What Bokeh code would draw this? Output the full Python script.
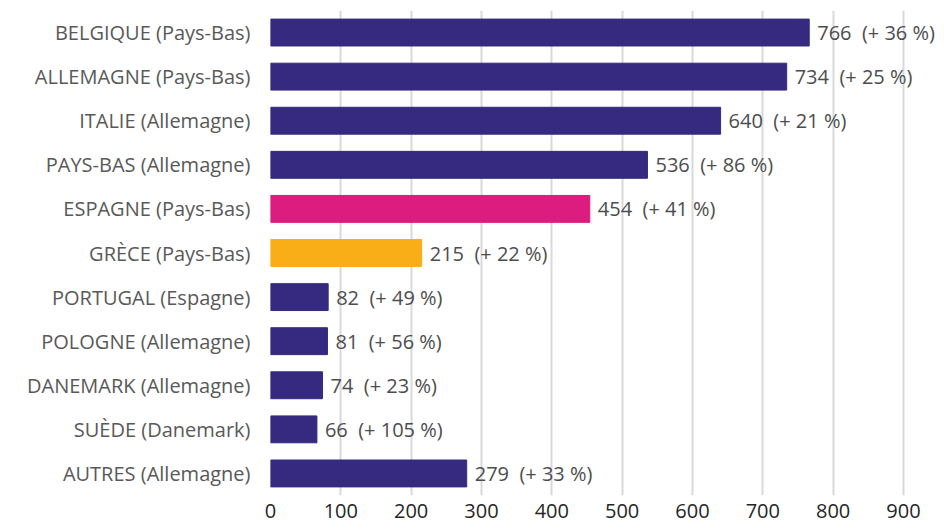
from bokeh.plotting import figure
from bokeh.models import ColumnDataSource, FactorRange, Range1d, FixedTicker, LabelSet
from bokeh.core.properties import value
from bokeh.embed import file_html
from bokeh.resources import INLINE

countries = ["BELGIQUE (Pays-Bas)", "ALLEMAGNE (Pays-Bas)", "ITALIE (Allemagne)",
             "PAYS-BAS (Allemagne)", "ESPAGNE (Pays-Bas)", "GRÈCE (Pays-Bas)",
             "PORTUGAL (Espagne)", "POLOGNE (Allemagne)", "DANEMARK (Allemagne)",
             "SUÈDE (Danemark)", "AUTRES (Allemagne)"]
values = [766, 734, 640, 536, 454, 215, 82, 81, 74, 66, 279]
growth = [36, 25, 21, 86, 41, 22, 49, 56, 23, 105, 33]
colors = ["#352A7F", "#352A7F", "#352A7F", "#352A7F", "#DC1C7E", "#F9AE17",
          "#352A7F", "#352A7F", "#352A7F", "#352A7F", "#352A7F"]
ticks = [0, 100, 200, 300, 400, 500, 600, 700, 800, 900]

labels = [f"{v}\u00a0\u00a0(+\u00a0{g}\u00a0%)" for v, g in zip(values, growth)]
src = ColumnDataSource(dict(cat=countries, val=values, col=colors, lab=labels))

FONT = "Open Sans"
TXT = "#595959"

p = figure(width=936, height=531, output_backend="svg", toolbar_location=None,
           y_range=FactorRange(factors=list(reversed(countries)), range_padding=0),
           x_range=Range1d(0, 947))
p.min_border_left = 270
p.min_border_right = 0
p.min_border_top = 10
p.min_border_bottom = 36
p.outline_line_color = None

p.hbar(y="cat", right="val", left=0, height=0.61, color="col", source=src)

lbl = LabelSet(x="val", y="cat", text="lab", source=src, x_offset=8,
               text_baseline="middle", text_align="left", text_font_size="20px",
               text_color="#4D4D4D", text_font=value(FONT))
p.add_layout(lbl)

p.xaxis.ticker = FixedTicker(ticks=ticks)
p.xaxis.axis_line_color = None
p.xaxis.major_tick_line_color = None
p.xaxis.major_tick_out = 0
p.xaxis.minor_tick_line_color = None
p.xaxis.major_label_text_font = FONT
p.xaxis.major_label_text_font_size = "20px"
p.xaxis.major_label_text_color = "#262626"
p.xaxis.major_label_standoff = 8

p.yaxis.axis_line_color = None
p.yaxis.major_tick_line_color = None
p.yaxis.major_tick_out = 0
p.yaxis.minor_tick_line_color = None
p.yaxis.major_label_text_font = FONT
p.yaxis.major_label_text_font_size = "20px"
p.yaxis.major_label_text_color = TXT
p.yaxis.major_label_standoff = 20

p.ygrid.grid_line_color = None
p.xgrid.grid_line_color = "#D9D9D9"
p.xgrid.grid_line_width = 2

open("out.html", "w").write(file_html(p, INLINE))
